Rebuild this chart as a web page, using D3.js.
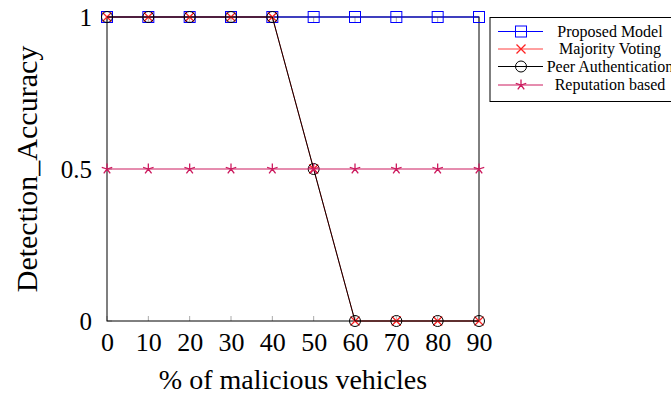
<!DOCTYPE html>
<html><head><meta charset="utf-8">
<script src="https://cdn.jsdelivr.net/npm/d3@7"></script>
<style>body{margin:0;background:#fff}svg{display:block}text{font-family:"Liberation Serif","Times New Roman",serif}</style>
</head><body>
<svg id="c" width="671" height="395"></svg>
<script>
const xValues = [0,10,20,30,40,50,60,70,80,90];
const proposed = [1,1,1,1,1,1,1,1,1,1];
const majority = [1,1,1,1,1,0.5,0,0,0,0];
const peer = [1,1,1,1,1,0.5,0,0,0,0];
const reputation = [0.5,0.5,0.5,0.5,0.5,0.5,0.5,0.5,0.5,0.5];
const yTicks = [0,0.5,1];
const seriesNames = ["Proposed Model","Majority Voting","Peer Authentication","Reputation based"];

const svg = d3.select("#c");
const L=107,R=479,T=17,B=321;
const x = d3.scaleLinear().domain([0,90]).range([L,R]);
const y = d3.scaleLinear().domain([0,1]).range([B,T]);
const FF = '"Liberation Serif","Times New Roman",serif';

// inner ticks
const g = svg.append("g");
xValues.forEach(v=>{
  g.append("line").attr("x1",x(v)).attr("x2",x(v)).attr("y1",B).attr("y2",B-5).attr("stroke","#aaa").attr("stroke-width",1);
  g.append("line").attr("x1",x(v)).attr("x2",x(v)).attr("y1",T).attr("y2",T+5).attr("stroke","#aaa").attr("stroke-width",1);
});
yTicks.forEach(v=>{
  g.append("line").attr("x1",L).attr("x2",L+5).attr("y1",y(v)).attr("y2",y(v)).attr("stroke","#aaa");
  g.append("line").attr("x1",R).attr("x2",R-5).attr("y1",y(v)).attr("y2",y(v)).attr("stroke","#aaa");
});
// axis box
svg.append("rect").attr("x",L).attr("y",T).attr("width",R-L).attr("height",B-T).attr("fill","none").attr("stroke","#000").attr("stroke-width",1);

// tick labels via d3 axes
const xAxis = svg.append("g").attr("transform",`translate(0,${B})`).call(d3.axisBottom(x).tickValues(xValues).tickSize(0).tickPadding(0).tickFormat(d3.format("d")));
xAxis.select(".domain").remove();
xAxis.selectAll("text").attr("font-size",26).attr("fill","#000").attr("dy",null).attr("y",30).style("font-family",FF);
const yAxis = svg.append("g").attr("transform",`translate(${L},0)`).call(d3.axisLeft(y).tickValues(yTicks).tickSize(0).tickPadding(15).tickFormat(d=>d===0.5?"0.5":d3.format("d")(d)));
yAxis.select(".domain").remove();
yAxis.selectAll("text").attr("font-size",25).attr("fill","#000").attr("dy","0.32em").style("font-family",FF);

svg.append("text").attr("x",(L+R)/2).attr("y",389).attr("text-anchor","middle").attr("font-size",28).text("% of malicious vehicles");
svg.append("text").attr("transform",`translate(37,${(T+B)/2}) rotate(-90)`).attr("text-anchor","middle").attr("font-size",30).text("Detection_Accuracy");

const colors = ["#0000ff","#ff2020","#000000","#cc1a5e"];
const lineColors = ["#0000ff","#ff4040","#000000","#cc1a5e"];
const data = [proposed,majority,peer,reputation];
const line = d3.line().x((d,i)=>x(xValues[i])).y(d=>y(d));

function marker(sel, type, cx, cy, col){
  if(type===0) sel.append("rect").attr("x",cx-5.5).attr("y",cy-5.5).attr("width",11).attr("height",11).attr("fill","none").attr("stroke",col).attr("stroke-width",1);
  else if(type===1){ const s=4.5;
    sel.append("path").attr("d",`M${cx-s},${cy-s}L${cx+s},${cy+s}M${cx-s},${cy+s}L${cx+s},${cy-s}`).attr("stroke",col).attr("stroke-width",1.3).attr("fill","none");}
  else if(type===2) sel.append("circle").attr("cx",cx).attr("cy",cy).attr("r",5.5).attr("fill","none").attr("stroke",col).attr("stroke-width",1);
  else { let d=""; for(let k=0;k<5;k++){const a=-Math.PI/2+k*2*Math.PI/5; d+=`M${cx},${cy}L${cx+5.5*Math.cos(a)},${cy+5.5*Math.sin(a)}`;}
    sel.append("path").attr("d",d).attr("stroke",col).attr("stroke-width",1.3).attr("fill","none");}
}

data.forEach((s,si)=>{
  svg.append("path").datum(s).attr("d",line).attr("fill","none").attr("stroke",lineColors[si]).attr("stroke-width",1);
  const mg = svg.append("g");
  s.forEach((v,i)=>marker(mg,si,x(xValues[i]),y(v),colors[si]));
});

// legend
const lg = svg.append("g");
lg.append("rect").attr("x",490).attr("y",17.5).attr("width",190).attr("height",84).attr("fill","#fff").attr("stroke","#000").attr("stroke-width",1);
const ly=[31.5,49,66.5,85];
seriesNames.forEach((n,i)=>{
  lg.append("line").attr("x1",498).attr("x2",543).attr("y1",ly[i]).attr("y2",ly[i]).attr("stroke",lineColors[i]).attr("stroke-width",1);
  marker(lg,i,521,ly[i],colors[i]);
  lg.append("text").attr("x",610).attr("y",ly[i]+5).attr("text-anchor","middle").attr("font-size",16).text(n);
});
</script>
</body></html>
